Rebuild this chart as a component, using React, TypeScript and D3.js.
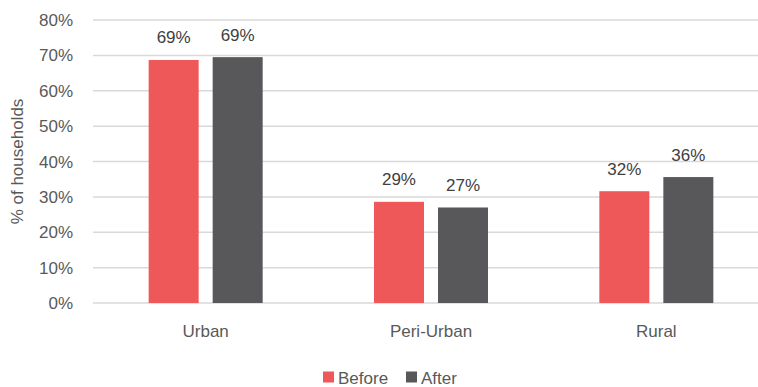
import * as d3 from 'd3'

const categories = ['Urban', 'Peri-Urban', 'Rural']
const series = ['Before', 'After']
const beforeValues = [68.7, 28.6, 31.6]
const afterValues = [69.5, 27.0, 35.6]
const labels = [['69%', '69%'], ['29%', '27%'], ['32%', '36%']]
const yTicks = [0, 10, 20, 30, 40, 50, 60, 70, 80]

const colors: Record<string, string> = { Before: '#EF5858', After: '#58585A' }
const FONT = '"Liberation Sans", Arial, sans-serif'

export default function App() {
  const W = 758
  const H = 387
  const margin = { top: 20, left: 93, right: -11, bottom: 84 }
  const ih = H - margin.top - margin.bottom

  const y = d3.scaleLinear().domain([0, 80]).range([margin.top + ih, margin.top])
  const x0 = d3.scaleBand<string>()
    .domain(categories)
    .range([margin.left, W - margin.right])
    .paddingInner(0.494)
    .paddingOuter(0.247)
  const x1 = d3.scaleBand<string>()
    .domain(series)
    .range([0, x0.bandwidth()])
    .paddingInner(0.219)

  const rows = categories.map((c, i) => ({
    cat: c,
    vals: [beforeValues[i], afterValues[i]],
    labels: labels[i],
  }))

  return (
    <svg width={W} height={H} style={{ position: 'absolute', left: 0, top: 0, fontFamily: FONT }}>
      {/* grid */}
      {yTicks.map(t => (
        <g key={t}>
          <line x1={margin.left} x2={W} y1={y(t)} y2={y(t)} stroke="#D9D9D9" strokeWidth={1.5} />
          <text x={73} y={y(t)} dy="0.36em" textAnchor="end" fontSize={17} fill="#595959">
            {t}%
          </text>
        </g>
      ))}

      {/* bars */}
      {rows.map(r => (
        <g key={r.cat} transform={`translate(${x0(r.cat)},0)`}>
          {series.map((s, j) => (
            <g key={s}>
              <rect
                x={x1(s)}
                y={y(r.vals[j])}
                width={x1.bandwidth()}
                height={y(0) - y(r.vals[j])}
                fill={colors[s]}
              />
              <text
                x={(x1(s) ?? 0) + x1.bandwidth() / 2}
                y={y(r.vals[j]) - 16.5}
                textAnchor="middle"
                fontSize={17}
                fill="#404040"
              >
                {r.labels[j]}
              </text>
            </g>
          ))}
          <text
            x={x0.bandwidth() / 2}
            y={336.5}
            textAnchor="middle"
            fontSize={17}
            fill="#595959"
          >
            {r.cat}
          </text>
        </g>
      ))}

      {/* y axis title */}
      <text
        transform={`translate(23,${(y(0) + y(80)) / 2}) rotate(-90)`}
        textAnchor="middle"
        fontSize={17}
        fill="#595959"
      >
        % of households
      </text>

      {/* legend */}
      <g>
        <rect x={323} y={371.5} width={11} height={11} fill={colors.Before} />
        <text x={338} y={383.5} fontSize={17} fill="#595959">Before</text>
        <rect x={406} y={371.5} width={11} height={11} fill={colors.After} />
        <text x={421} y={383.5} fontSize={17} fill="#595959">After</text>
      </g>
    </svg>
  )
}
